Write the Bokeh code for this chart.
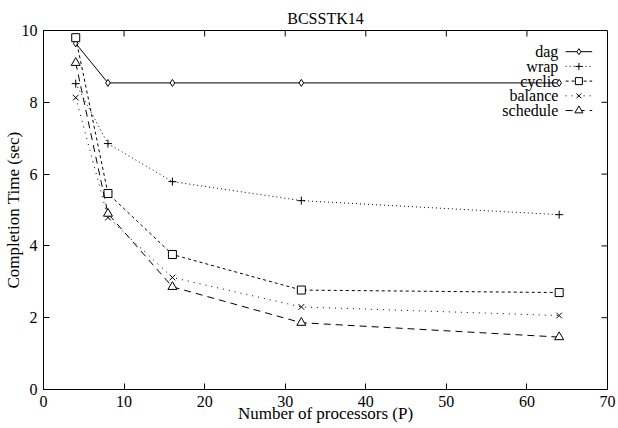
from bokeh.plotting import figure
from bokeh.models import Range1d, FixedTicker
from bokeh.embed import file_html
from bokeh.resources import INLINE
from bokeh.core.properties import value

# ---- data ----
processors = [4, 8, 16, 32, 64]
dag = [9.64, 8.54, 8.54, 8.54, 8.54]
wrap = [8.52, 6.85, 5.79, 5.26, 4.87]
cyclic = [9.8, 5.46, 3.76, 2.77, 2.7]
balance = [8.13, 4.79, 3.12, 2.3, 2.06]
schedule = [9.1, 4.9, 2.86, 1.86, 1.46]
series_names = ["dag", "wrap", "cyclic", "balance", "schedule"]
x_ticks = [0, 10, 20, 30, 40, 50, 60, 70]
y_ticks = [0, 2, 4, 6, 8, 10]

series_values = [dag, wrap, cyclic, balance, schedule]
markers = ["diamond", "cross", "square", "x", "triangle"]
marker_sizes = [7, 8, 8, 8, 9]
dashes = ["solid", "1 3", "3 3", "1 5", "7 5"]

FONT = "Liberation Serif"
W, H = 618, 428
BL, BR, BT, BB = 43, 11, 30, 39
FW, FH = W - BL - BR, H - BT - BB
X0, X1, Y0, Y1 = 0, 70, 0, 10
TICK = 6

p = figure(width=W, height=H, output_backend="svg", toolbar_location=None,
           x_range=Range1d(X0, X1), y_range=Range1d(Y0, Y1),
           min_border_left=BL, min_border_right=BR, min_border_top=BT, min_border_bottom=BB,
           x_axis_label="Number of processors (P)", y_axis_label="Completion Time (sec)")

p.title.text = "BCSSTK14"
p.title.align = "center"
p.title.text_font = FONT
p.title.text_font_size = "16px"
p.title.text_font_style = "normal"
p.title.text_color = "black"
p.title.standoff = 8

p.grid.visible = False
p.outline_line_color = "black"
p.outline_line_width = 1
p.background_fill_color = "white"
p.border_fill_color = "white"

for ax in (p.xaxis[0], p.yaxis[0]):
    ax.axis_label_text_font = FONT
    ax.axis_label_text_font_size = "17px"
    ax.axis_label_text_font_style = "normal"
    ax.axis_label_text_color = "black"
    ax.major_label_text_font = FONT
    ax.major_label_text_font_size = "16px"
    ax.major_label_text_color = "black"
    ax.major_tick_in = TICK
    ax.major_tick_out = 0
    ax.minor_tick_line_color = None
    ax.axis_line_color = "black"
    ax.major_tick_line_color = "black"
p.xaxis[0].ticker = FixedTicker(ticks=x_ticks)
p.yaxis[0].ticker = FixedTicker(ticks=y_ticks)
p.xaxis[0].axis_label_standoff = -6
p.xaxis[0].major_label_standoff = 6
p.yaxis[0].axis_label_standoff = -4
p.yaxis[0].major_label_standoff = 6

# mirrored ticks on top and right edges of the frame
dy = TICK * (Y1 - Y0) / FH
dx = TICK * (X1 - X0) / FW
tx = [t for t in x_ticks if X0 < t < X1]
ty = [t for t in y_ticks if Y0 < t < Y1]
p.segment(x0=tx, y0=[Y1] * len(tx), x1=tx, y1=[Y1 - dy] * len(tx), line_color="black", line_width=1)
p.segment(x0=[X1] * len(ty), y0=ty, x1=[X1 - dx] * len(ty), y1=ty, line_color="black", line_width=1)

for vals, mk, ms, dash in zip(series_values, markers, marker_sizes, dashes):
    p.line(processors, vals, line_color="black", line_width=1, line_dash=dash)
    p.scatter(processors, vals, marker=mk, size=ms, line_color="black",
              fill_color="white", line_width=1)

# legend (gnuplot style: right-aligned text, sample to the right)
leg_text_x = 63.9
leg_line_x0, leg_line_x1 = 64.8, 68.1
leg_top = 9.41
leg_step = 0.41
for i, (name, mk, ms, dash) in enumerate(zip(series_names, markers, marker_sizes, dashes)):
    y = leg_top - i * leg_step
    p.text([leg_text_x], [y], text=[name], text_align="right", text_baseline="middle",
           text_font=value(FONT), text_font_size="16px", text_color="black")
    p.line([leg_line_x0, leg_line_x1], [y, y], line_color="black", line_width=1, line_dash=dash)
    p.scatter([(leg_line_x0 + leg_line_x1) / 2], [y], marker=mk, size=ms - 1,
              line_color="black", fill_color="white", line_width=1)

open("out.html", "w").write(file_html(p, INLINE))
